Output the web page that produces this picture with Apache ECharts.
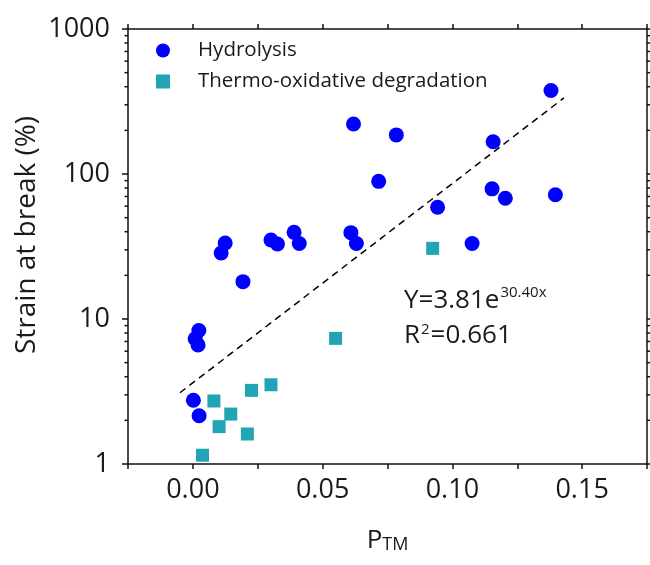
<!DOCTYPE html>
<html>
<head>
<meta charset="utf-8">
<script src="https://cdn.jsdelivr.net/npm/echarts@6/dist/echarts.min.js"></script>
<style>
html,body{margin:0;padding:0;background:#fff;}
#c{width:650px;height:565px;}
</style>
</head>
<body>
<div id="c"></div>
<script>
// ---- data ----
const hydroX = [0.0619, 0.0716, 0.138, 0.0784, 0.1157, 0.1153, 0.1204, 0.1397, 0.0943, 0.1076,
  0.01245, 0.0109, 0.0193, 0.0301, 0.0326, 0.039, 0.041, 0.0609, 0.063,
  0.0023, 0.0009, 0.002, 0.0002, 0.0024];
const hydroY = [221, 89, 377, 186, 167, 79, 68, 72, 59, 33.2,
  33.4, 28.5, 18.1, 35.1, 32.9, 39.6, 33.2, 39.4, 33.2,
  8.34, 7.31, 6.62, 2.75, 2.15];
const thermoX = [0.0924, 0.055, 0.0226, 0.0301, 0.0081, 0.0146, 0.0101, 0.021, 0.0037, 0.0067, 0.0178];
const thermoY = [30.7, 7.35, 3.22, 3.52, 2.72, 2.21, 1.81, 1.61, 1.15, 0.9, 0.9];
const fitX = [-0.005, 0.143];
const fitY = [3.1, 335];
const xTickLabels = ['0.00', '0.05', '0.10', '0.15'];
const yTickLabels = {1: '1', 10: '10', 100: '100', 1000: '1000'};
const yMinorTicks = [2,3,4,5,6,7,8,9,20,30,40,50,60,70,80,90,200,300,400,500,600,700,800,900];
const seriesNames = ['Hydrolysis', 'Thermo-oxidative degradation'];
const eqMain = 'Y=3.81e';
const eqSup = '30.40x';
const r2Main = 'R';
const r2Sup = '2';
const r2Rest = '=0.661';

const X_MIN = -0.025, X_MAX = 0.175;
const FONT = 'Open Sans';
const AX = '#111';
const TXT = '#1a1a1a';
const BLUE = '#0000FF';
const TEAL = '#21A5B5';

const zip = (a, b) => a.map((v, i) => [v, b[i]]);

const mctx = document.createElement('canvas').getContext('2d');
function tw(str, size) { mctx.font = size + 'px "' + FONT + '"'; return mctx.measureText(str).width; }

const chart = echarts.init(document.getElementById('c'), null, {renderer: 'canvas'});

const xBase = {
  type: 'value', min: X_MIN, max: X_MAX, interval: 0.025,
  axisLine: {show: true, onZero: false, lineStyle: {color: AX, width: 1.5}},
  axisTick: {show: true, inside: false, length: 5, lineStyle: {color: AX, width: 1.5}},
  splitLine: {show: false}
};
const yBase = {
  type: 'log', logBase: 10, min: 1, max: 1000,
  axisLine: {show: true, onZero: false, lineStyle: {color: AX, width: 1.5}},
  axisTick: {show: true, inside: false, length: 6, lineStyle: {color: AX, width: 1.5}},
  splitLine: {show: false}
};

// annotation layout
const EQ_X = 404, MAIN_FS = 26, SUP_FS = 15;
const supX = EQ_X + tw(eqMain, MAIN_FS) + 1;
const r2SupX = EQ_X + tw(r2Main, MAIN_FS) + 1;
const r2RestX = r2SupX + tw(r2Sup, SUP_FS) + 1;
function txt(str, x, y, fs) {
  return {type: 'text', x: x, y: y,
    style: {text: str, fontFamily: FONT, fontSize: fs, fill: TXT, align: 'left', verticalAlign: 'middle'}};
}

const option = {
  animation: false,
  backgroundColor: '#fff',
  grid: {left: 128, right: 3, top: 29, bottom: 101, containLabel: false},
  legend: {
    orient: 'vertical', left: 156, top: 40, padding: 0,
    itemWidth: 14, itemHeight: 14, itemGap: 10,
    textStyle: {fontFamily: FONT, fontSize: 20.5, color: TXT, lineHeight: 20, padding: [0, 0, 0, 23]},
    data: [{name: seriesNames[0], icon: 'circle'}, {name: seriesNames[1], icon: 'rect'}]
  },
  xAxis: [
    Object.assign({}, xBase, {
      position: 'bottom',
      axisLabel: {
        show: true, margin: 13, fontFamily: FONT, fontSize: 27, color: TXT,
        formatter: function (v) {
          const k = Math.round(v / 0.025);
          if (k % 2 !== 0 || k < 0) return '';
          const idx = k / 2;
          return xTickLabels[idx] !== undefined ? xTickLabels[idx] : '';
        }
      },
      name: '{m|P}{s|TM}', nameLocation: 'middle', nameGap: 56,
      nameTextStyle: {
        fontFamily: FONT, fontSize: 26, color: TXT,
        rich: {
          m: {fontFamily: FONT, fontSize: 26, lineHeight: 34, verticalAlign: 'bottom', color: TXT},
          s: {fontFamily: FONT, fontSize: 18, lineHeight: 14, verticalAlign: 'bottom', color: TXT}
        }
      }
    }),
    Object.assign({}, xBase, {position: 'top', axisLabel: {show: false}})
  ],
  yAxis: [
    Object.assign({}, yBase, {
      position: 'left',
      axisLabel: {show: true, margin: 18, fontFamily: FONT, fontSize: 27, color: TXT,
        formatter: function (v) {
          const k = Math.round(v);
          return yTickLabels[k] !== undefined ? yTickLabels[k] : '';
        }
      }
    }),
    Object.assign({}, yBase, {position: 'right', axisLabel: {show: false}})
  ],
  graphic: [
    {
      type: 'text', x: 27.5, y: 235, rotation: Math.PI / 2,
      style: {text: 'Strain at break (%)', fontFamily: FONT, fontSize: 28, fill: TXT,
        align: 'center', verticalAlign: 'middle'}
    },
    txt(eqMain, EQ_X, 301, MAIN_FS),
    txt(eqSup, supX, 292.5, SUP_FS),
    txt(r2Main, EQ_X, 335.5, MAIN_FS),
    txt(r2Sup, r2SupX, 330, SUP_FS),
    txt(r2Rest, r2RestX, 335.5, MAIN_FS)
  ],
  series: [
    {
      name: 'fit', type: 'line', xAxisIndex: 0, yAxisIndex: 0,
      data: zip(fitX, fitY), showSymbol: false, symbol: 'none',
      lineStyle: {color: '#000', width: 1.5, type: [7, 5]}, z: 3, silent: true
    },
    {
      name: seriesNames[0], type: 'scatter', xAxisIndex: 0, yAxisIndex: 0,
      data: zip(hydroX, hydroY), symbol: 'circle', symbolSize: 15,
      itemStyle: {color: BLUE, opacity: 1}, z: 5
    },
    {
      name: seriesNames[1], type: 'custom', xAxisIndex: 0, yAxisIndex: 0,
      data: zip(thermoX, thermoY), clip: true, z: 4,
      itemStyle: {color: TEAL},
      renderItem: function (params, api) {
        const p = api.coord([api.value(0), api.value(1)]);
        const s = 13;
        return {type: 'rect', shape: {x: p[0] - s / 2, y: p[1] - s / 2, width: s, height: s},
          style: {fill: TEAL}};
      }
    },
    {
      name: 'minorTicks', type: 'custom', xAxisIndex: 0, yAxisIndex: 0,
      data: yMinorTicks.map(v => [0, v]), clip: false, silent: true, z: 1,
      renderItem: function (params, api) {
        const v = api.value(1);
        const pl = api.coord([X_MIN, v]);
        const pr = api.coord([X_MAX, v]);
        return {
          type: 'group',
          children: [
            {type: 'line', shape: {x1: pl[0] - 3.5, y1: pl[1], x2: pl[0], y2: pl[1]}, style: {stroke: AX, lineWidth: 1.5}},
            {type: 'line', shape: {x1: pr[0], y1: pr[1], x2: pr[0] + 3.5, y2: pr[1]}, style: {stroke: AX, lineWidth: 1.5}}
          ]
        };
      }
    }
  ]
};
chart.setOption(option);
</script>
</body>
</html>
